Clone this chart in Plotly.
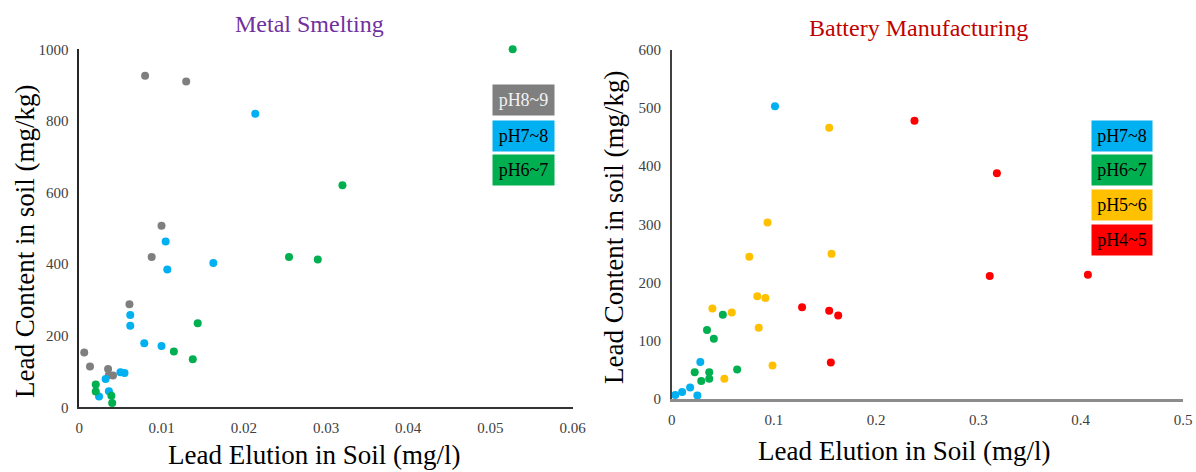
import plotly.graph_objects as go

# ---- Metal Smelting: lead elution (mg/l) vs lead content (mg/kg) ----
ms_ph89_x = [0.0006, 0.0013, 0.0035, 0.0036, 0.0041, 0.0061, 0.0080, 0.0088, 0.0100, 0.0130]
ms_ph89_y = [153, 114, 107, 90, 89, 288, 926, 420, 507, 910]
ms_ph78_x = [0.0024, 0.0032, 0.0036, 0.0050, 0.0055, 0.0062, 0.0062, 0.0079, 0.0100, 0.0105, 0.0107, 0.0163, 0.0214]
ms_ph78_y = [30, 79, 45, 98, 96, 258, 228, 179, 171, 463, 385, 403, 820]
ms_ph67_x = [0.0020, 0.0020, 0.0039, 0.0040, 0.0115, 0.0138, 0.0144, 0.0255, 0.0290, 0.0320, 0.0527]
ms_ph67_y = [64, 44, 32, 12, 156, 134, 235, 420, 413, 620, 1000]

# ---- Battery Manufacturing ----
bm_ph78_x = [0.0035, 0.0102, 0.0180, 0.0251, 0.0280, 0.1010]
bm_ph78_y = [6, 11, 19, 5, 63, 503]
bm_ph67_x = [0.0225, 0.0367, 0.0289, 0.0367, 0.0345, 0.0412, 0.0500, 0.0640]
bm_ph67_y = [45, 45, 30, 34, 118, 103, 144, 50]
bm_ph56_x = [0.0398, 0.0587, 0.0837, 0.0916, 0.0851, 0.0986, 0.0515, 0.0759, 0.0937, 0.1540, 0.1563]
bm_ph56_y = [155, 148, 176, 173, 122, 57, 34, 244, 303, 466, 249]
bm_ph45_x = [0.1275, 0.1540, 0.1628, 0.1556, 0.2374, 0.3180, 0.3110, 0.4070]
bm_ph45_y = [157, 151, 143, 62, 478, 388, 211, 213]

GRAY, BLUE, GREEN, YELLOW, RED = "#7F7F7F", "#00B0F0", "#00B050", "#FFC000", "#FF0000"

W, H = 1196, 472
FONT = "Liberation Serif, Times New Roman, serif"


def px_x(p):
    return p / W


def px_y(p):
    return 1 - p / H


fig = go.Figure()

series = [
    (ms_ph89_x, ms_ph89_y, GRAY, "x", "y", "pH8~9"),
    (ms_ph78_x, ms_ph78_y, BLUE, "x", "y", "pH7~8"),
    (ms_ph67_x, ms_ph67_y, GREEN, "x", "y", "pH6~7"),
    (bm_ph78_x, bm_ph78_y, BLUE, "x2", "y2", "pH7~8"),
    (bm_ph67_x, bm_ph67_y, GREEN, "x2", "y2", "pH6~7"),
    (bm_ph56_x, bm_ph56_y, YELLOW, "x2", "y2", "pH5~6"),
    (bm_ph45_x, bm_ph45_y, RED, "x2", "y2", "pH4~5"),
]
for xs, ys, col, xa, ya, name in series:
    fig.add_trace(go.Scatter(
        x=xs, y=ys, mode="markers", name=name, xaxis=xa, yaxis=ya,
        marker=dict(color=col, size=8, line=dict(width=0)),
        cliponaxis=False, showlegend=False,
    ))

tick_font = dict(family=FONT, size=15, color="#404040")
common = dict(showgrid=False, zeroline=False, showline=True, ticks="",
              tickfont=tick_font, ticklabelstandoff=6, automargin=False)

fig.update_layout(
    template="none",
    width=W, height=H, autosize=False, showlegend=False,
    margin=dict(l=0, r=0, t=0, b=0, pad=0, autoexpand=False),
    paper_bgcolor="white", plot_bgcolor="white",
    xaxis=dict(domain=[px_x(79.3), px_x(572.7)], range=[0, 0.06], dtick=0.01,
               anchor="y", linecolor="#333333", linewidth=2, **common),
    yaxis=dict(domain=[px_y(407.3), px_y(49.3)], range=[0, 1000], dtick=200,
               anchor="x", linecolor="#262626", linewidth=1.5, **common),
    xaxis2=dict(domain=[px_x(671.7), px_x(1183)], range=[0, 0.5], dtick=0.1,
                anchor="y2", linecolor="#8C8C8C", linewidth=2.5, **common),
    yaxis2=dict(domain=[px_y(398.5), px_y(50)], range=[0, 600], dtick=100,
                anchor="x2", linecolor="#404040", linewidth=1.5, **common),
)

annotations = [
    # chart titles
    dict(text="Metal Smelting", x=px_x(309), y=px_y(24), font=dict(family=FONT, size=24, color="#7030A0")),
    dict(text="Battery Manufacturing", x=px_x(918), y=px_y(28), font=dict(family=FONT, size=24, color="#C00000")),
    # axis titles
    dict(text="Lead Content in soil (mg/kg)", x=px_x(25), y=px_y(242), textangle=-90,
         font=dict(family=FONT, size=27, color="black")),
    dict(text="Lead Content in soil (mg/kg)", x=px_x(614), y=px_y(228), textangle=-90,
         font=dict(family=FONT, size=27, color="black")),
    dict(text="Lead Elution in Soil (mg/l)", x=px_x(314), y=px_y(455),
         font=dict(family=FONT, size=27, color="black")),
    dict(text="Lead Elution in Soil (mg/l)", x=px_x(904), y=px_y(451),
         font=dict(family=FONT, size=27, color="black")),
]

# colour-keyed pH boxes
left_boxes = [("pH8~9", GRAY, "#F2F2F2", 99.5), ("pH7~8", BLUE, "black", 136),
              ("pH6~7", GREEN, "black", 170)]
right_boxes = [("pH7~8", BLUE, "black", 136), ("pH6~7", GREEN, "black", 170),
               ("pH5~6", YELLOW, "black", 205), ("pH4~5", RED, "black", 240)]
for txt, bg, fc, cy in left_boxes:
    annotations.append(dict(text=txt, x=px_x(523), y=px_y(cy), bgcolor=bg, width=61, height=30,
                            borderpad=0, font=dict(family=FONT, size=18, color=fc)))
for txt, bg, fc, cy in right_boxes:
    annotations.append(dict(text=txt, x=px_x(1122), y=px_y(cy), bgcolor=bg, width=60, height=30,
                            borderpad=0, font=dict(family=FONT, size=18, color=fc)))

for a in annotations:
    a.update(xref="paper", yref="paper", showarrow=False, xanchor="center", yanchor="middle")
fig.update_layout(annotations=annotations)

fig.write_html("out.html", config={"responsive": False})
